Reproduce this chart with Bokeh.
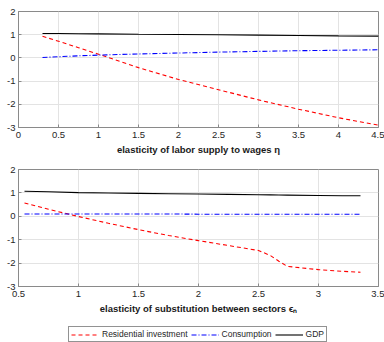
from bokeh.plotting import figure
from bokeh.layouts import column
from bokeh.models import Range1d, FixedTicker, CustomJSTickFormatter, Legend, LegendItem
from bokeh.embed import file_html
from bokeh.resources import INLINE

# Top panel: elasticity of labor supply to wages (eta)
eta = [0.3, 0.5, 0.75, 1.0, 1.5, 2.0, 2.5, 3.0, 3.5, 4.0, 4.5]
res_eta = [0.93, 0.72, 0.44, 0.16, -0.42, -0.93, -1.37, -1.81, -2.21, -2.58, -2.90]
con_eta = [0.02, 0.05, 0.09, 0.12, 0.17, 0.21, 0.25, 0.28, 0.31, 0.33, 0.35]
gdp_eta = [1.05, 1.05, 1.04, 1.035, 1.02, 1.01, 0.995, 0.98, 0.965, 0.95, 0.94]

# Bottom panel: elasticity of substitution between sectors (eps_n)
epsn = [0.55, 0.75, 1.0, 1.25, 1.5, 1.75, 2.0, 2.25, 2.5, 2.6, 2.67, 2.74, 3.0, 3.2, 3.35]
res_eps = [0.57, 0.30, -0.01, -0.30, -0.57, -0.82, -1.04, -1.25, -1.46, -1.68, -1.92, -2.14, -2.28, -2.35, -2.39]
con_eps = [0.10, 0.10, 0.10, 0.10, 0.10, 0.10, 0.09, 0.09, 0.09, 0.09, 0.09, 0.09, 0.09, 0.09, 0.09]
gdp_eps = [1.07, 1.05, 1.01, 0.995, 0.98, 0.965, 0.95, 0.935, 0.92, 0.915, 0.91, 0.905, 0.89, 0.88, 0.875]

xticks_top = [0, 0.5, 1, 1.5, 2, 2.5, 3, 3.5, 4, 4.5]
xticks_bot = [0.5, 1, 1.5, 2, 2.5, 3, 3.5]
yticks = [-3, -2, -1, 0, 1, 2]

labels = ["Residential investment", "Consumption", "GDP"]

FONT = "Liberation Sans"
STYLES = [dict(line_color="#ff0000", line_width=1.1, line_dash="4 3"),
          dict(line_color="#0000ff", line_width=1.1, line_dash="5 2 1 2"),
          dict(line_color="#000000", line_width=1.1)]


def style(p, xticks, xlabel):
    p.background_fill_color = "white"
    p.border_fill_color = "white"
    p.outline_line_color = "#8a8a8a"
    p.outline_line_width = 1
    p.xaxis.ticker = FixedTicker(ticks=xticks)
    p.yaxis.ticker = FixedTicker(ticks=yticks)
    for ax in (p.xaxis[0], p.yaxis[0]):
        ax.formatter = CustomJSTickFormatter(code="return tick.toString();")
        ax.axis_line_color = "#8a8a8a"
        ax.major_tick_line_color = "#8a8a8a"
        ax.major_tick_in = 3
        ax.major_tick_out = 0
        ax.minor_tick_line_color = None
        ax.major_label_text_font = FONT
        ax.major_label_text_font_size = "9.5px"
        ax.major_label_text_color = "#262626"
        ax.axis_label_text_font = FONT
        ax.axis_label_text_font_size = "9.5px"
        ax.axis_label_text_font_style = "bold"
        ax.axis_label_text_color = "#1a1a1a"
    p.xaxis.major_label_standoff = 4
    p.yaxis.major_label_standoff = 3
    p.xaxis.axis_label = xlabel
    p.xaxis.axis_label_standoff = 3
    p.grid.grid_line_color = "#e3e3e3"
    p.grid.grid_line_width = 1


top = figure(width=384, height=160, output_backend="svg", toolbar_location=None,
             x_range=Range1d(0, 4.5), y_range=Range1d(-3, 2),
             min_border_top=11, min_border_left=18, min_border_right=6, min_border_bottom=33)
style(top, xticks_top, "elasticity of labor supply to wages η")
top.line(eta, res_eta, **STYLES[0])
top.line(eta, con_eta, **STYLES[1])
top.line(eta, gdp_eta, **STYLES[2])

bot = figure(width=384, height=162, output_backend="svg", toolbar_location=None,
             x_range=Range1d(0.5, 3.5), y_range=Range1d(-3, 2),
             min_border_top=9, min_border_left=18, min_border_right=6, min_border_bottom=36)
style(bot, xticks_bot, "elasticity of substitution between sectors ϵₙ")
bot.line(epsn, res_eps, **STYLES[0])
bot.line(epsn, con_eps, **STYLES[1])
bot.line(epsn, gdp_eps, **STYLES[2])

# legend strip: its own small plot whose data lie outside its view range
leg = figure(width=384, height=20, output_backend="svg", toolbar_location=None,
             x_range=Range1d(0, 1), y_range=Range1d(100, 101),
             x_axis_type=None, y_axis_type=None,
             min_border_top=0, min_border_left=0, min_border_right=0, min_border_bottom=0)
leg.outline_line_color = None
leg.grid.visible = False
lr = [leg.line(epsn, res_eps, **STYLES[0]),
      leg.line(epsn, con_eps, **STYLES[1]),
      leg.line(epsn, gdp_eps, **STYLES[2])]

legend = Legend(items=[LegendItem(label=lab, renderers=[r]) for lab, r in zip(labels, lr)],
                orientation="horizontal", location=(50, 0))
legend.label_text_font = FONT
legend.label_text_font_size = "8.5px"
legend.label_text_color = "#262626"
legend.glyph_width = 28
legend.glyph_height = 9
legend.label_height = 9
legend.label_width = 10
legend.label_standoff = 3
legend.spacing = 3
legend.padding = 2
legend.margin = 0
legend.border_line_color = "#262626"
legend.border_line_width = 1
legend.background_fill_color = "white"
leg.add_layout(legend, "center")

layout = column(top, bot, leg, spacing=0)
open("out.html", "w").write(file_html(layout, INLINE))
